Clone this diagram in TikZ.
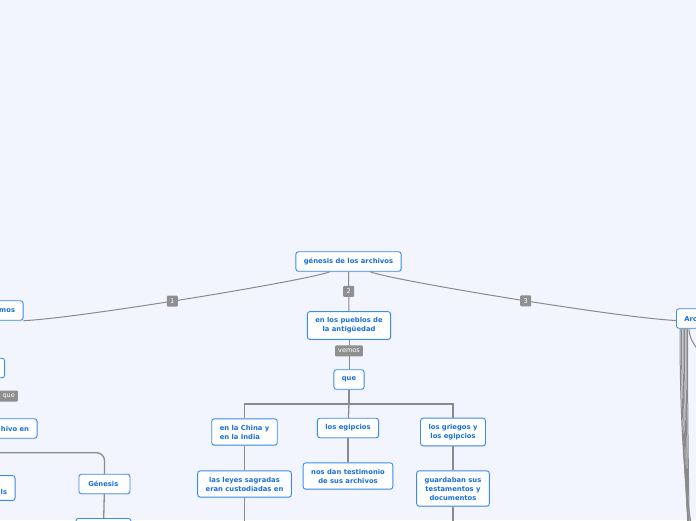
\documentclass[tikz,border=0pt]{standalone}
\usepackage{fontspec}
\setmainfont{DejaVu Sans}
\usepackage{tikz}
\usetikzlibrary{positioning, shadows}

\definecolor{canvas}{HTML}{F2F5FE}
\definecolor{topicline}{HTML}{3A8CEE}
\definecolor{topictext}{HTML}{1870D8}
\definecolor{linkgray}{HTML}{8A8A8A}
\definecolor{taggray}{HTML}{8F8F8F}

\begin{document}
\begin{tikzpicture}
        [
        x=1pt, y=-1pt,
        topic/.style={draw=topicline, fill=white, rounded corners=2.5pt, line width=0.9pt,
          text=topictext, font=\fontsize{6.8}{9}\selectfont\bfseries, align=center,
          inner xsep=8pt, inner ysep=6pt, minimum height=19.5pt,
          drop shadow={shadow xshift=0.4pt, shadow yshift=-0.8pt, opacity=0.18}},
        tag/.style={fill=taggray, rounded corners=1pt, text=white,
          font=\fontsize{6.5}{7}\selectfont, inner xsep=3pt, inner ysep=1pt,
          minimum height=11pt, minimum width=11pt},
        link/.style={draw=linkgray, line width=1pt},
        bar/.style={draw=linkgray, line width=1.3pt}
        ]

        \fill[canvas] (0,0) rectangle (696,520);
        \useasboundingbox (0,0) rectangle (696,520);

        \node[topic] (root) at (348.5,261.5) {génesis de los archivos};

        \node[topic] (pueblos) at (349,325.5) {en los pueblos de\\la antigüedad};
        \node[topic] (que) at (349,379.5) {que};

        \node[topic, align=left] (china) at (244.5,432) {en la China y\\en la India};
        \node[topic] (egipcios) at (348,428) {los egipcios};
        \node[topic] (griegos) at (453,432) {los griegos y\\los egipcios};

        \node[topic] (leyes) at (244.5,484) {las leyes sagradas\\eran custodiadas en};
        \node[topic] (testimonio) at (348,476) {nos dan testimonio\\de sus archivos};
        \node[topic] (guardaban) at (453,488.5) {guardaban sus\\testamentos y\\documentos};

        \node[topic, anchor=east] (vemosL) at (23.5,310.5) {\phantom{ve}mos};
        \node[topic, anchor=east] (oculto) at (5,368) {\phantom{xxxxxxxxxx}};
        \node[tag, anchor=east] (tque) at (18,396) {\phantom{en el }que};
        \node[topic, anchor=east] (archivo) at (37.5,428.5) {\phantom{el documento de arc}hivo en};
        \node[topic, anchor=east, align=right] (lsnode) at (15.5,488) {\phantom{xxxxxxxxxx}\\ls};
        \node[topic, minimum width=51pt] (genesis) at (104.5,484) {Génesis\ };
        \node[topic, minimum width=55pt, anchor=north] (genesisK) at (103.5,518) {};

        \node[topic, anchor=west] (arc) at (676,318.5) {Arc\phantom{hivo}};

        \coordinate (split) at (349,404);
        \coordinate (leyesK) at (244.5,540);
        \coordinate (guardabanK) at (453,540);

        \draw[link] ([xshift=-18.5pt]root.south) .. controls (310,280) and (80,318) .. (vemosL.south east)
          node[tag, pos=0.545] {1};
        \draw[link] (root) -- node[tag] {2} (pueblos);
        \draw[link] ([xshift=21.5pt]root.south) .. controls (390,280) and (620,318) .. ([yshift=-2pt]arc.west)
          node[tag, pos=0.54] {3};

        \draw[link] (pueblos) -- node[tag, pos=0.38] {vemos} (que);

        \draw[bar] (que) -- (split);
        \draw[bar] (split) -| (china);
        \draw[bar] (split) -- (egipcios);
        \draw[bar] (split) -| (griegos);

        \draw[bar] (china) -- (leyes);
        \draw[bar] (egipcios) -- (testimonio);
        \draw[bar] (griegos) -- (guardaban);
        \draw[bar] (leyes) -- (leyesK);
        \draw[bar] (guardaban) -- (guardabanK);

        \draw[bar, rounded corners=8pt] (archivo.south) -- ++(0,14) -| (genesis.north);
        \draw[bar, rounded corners=8pt] (archivo.south) -- ++(0,14) -| (lsnode.north);
        \draw[bar] (genesis) -- (genesisK);

        \coordinate (arcK0) at (730,365);
        \draw[link] ([xshift=13pt]arc.south west) .. controls +(0,14) and +(-25,0) .. (arcK0);
        \foreach \i/\dx/\ey in {1/4/600, 2/5.5/660, 3/7/720, 4/8.5/780, 5/10/850, 6/11.5/920}
        {
          \coordinate (arcK\i) at (730,\ey);
          \draw[link] ([xshift=\dx pt]arc.south west) .. controls +(0,140) and +(-40,0) .. (arcK\i);
        }

    \end{tikzpicture}
\end{document}
